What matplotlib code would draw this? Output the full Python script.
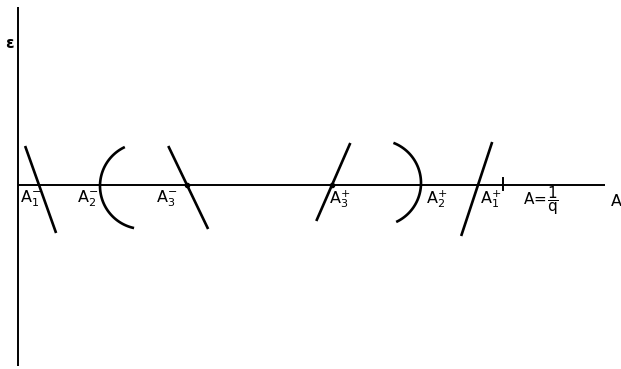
import numpy as np
import matplotlib
matplotlib.use("Agg")
import matplotlib.pyplot as plt

plt.rcParams["mathtext.fontset"] = "dejavusans"

# Straight branches: crossing point on the A axis, slope dA/dε, ε extent
line_labels = [r"$\mathrm{A}_1^{-}$", r"$\mathrm{A}_3^{-}$",
               r"$\mathrm{A}_3^{+}$", r"$\mathrm{A}_1^{+}$"]
line_cross = [21, 169, 314, 460]
line_slope = [-0.356, -0.48, 0.436, 0.33]
line_eps_top = [39, 39, 42, 43]
line_eps_bot = [-48, -44, -36, -51]

# Curved branches: vertex on the A axis, radius, angular range (degrees)
arc_labels = [r"$\mathrm{A}_2^{-}$", r"$\mathrm{A}_2^{+}$"]
arc_vertex = [82, 403]
arc_radius = [43, 43]
arc_center_eps = [-1, 2]
arc_side = [-1, 1]          # -1 opens to the right, +1 opens to the left
arc_theta = [(115, 258), (-65, 69)]

# Marked crossings and the limit A = 1/q
dot_points = [169, 314]
limit_A = 485
axis_A_end = 587
eps_top, eps_bot = 178, -181

# Label anchor points (A, ε)
label_pos = {
    r"$\mathrm{A}_1^{-}$": (2, -14),
    r"$\mathrm{A}_2^{-}$": (59, -14),
    r"$\mathrm{A}_3^{-}$": (138, -14),
    r"$\mathrm{A}_3^{+}$": (311, -14),
    r"$\mathrm{A}_2^{+}$": (408, -14),
    r"$\mathrm{A}_1^{+}$": (462, -14),
}

fig = plt.figure(figsize=(6.21, 3.69), dpi=100)
ax = fig.add_axes([0, 0, 1, 1])
ax.set_xlim(-18, 603)
ax.set_ylim(-184, 185)
ax.axis("off")

lw_axis = 1.4
lw_curve = 1.9

# Axes
ax.plot([0, 0], [eps_bot, eps_top], color="black", lw=lw_axis, solid_capstyle="butt")
ax.plot([0, axis_A_end], [0, 0], color="black", lw=lw_axis, solid_capstyle="butt")
ax.plot([limit_A, limit_A], [-5, 7], color="black", lw=lw_axis)

# Straight branches
for c, s, t, b in zip(line_cross, line_slope, line_eps_top, line_eps_bot):
    eps = np.array([b, t])
    ax.plot(c + s * eps, eps, color="black", lw=lw_curve, solid_capstyle="butt")

# Curved branches
for v, r, ce, side, (t0, t1) in zip(arc_vertex, arc_radius, arc_center_eps,
                                     arc_side, arc_theta):
    cx = v - side * r
    th = np.radians(np.linspace(t0, t1, 100))
    ax.plot(cx + r * np.cos(th), ce + r * np.sin(th), color="black",
            lw=lw_curve, solid_capstyle="butt")

ax.plot(dot_points, [0] * len(dot_points), "o", color="black", ms=3)

# Labels
for lab, (x, y) in label_pos.items():
    ax.text(x, y, lab, fontsize=11.5, ha="left", va="center")
ax.text(505, -16, r"$\mathrm{A}\!=\!\dfrac{1}{\mathrm{q}}$", fontsize=11,
        ha="left", va="center")
ax.text(593, -17, "A", fontsize=11.5, ha="left", va="center")
ax.text(-13, 141, "ε", fontsize=11, fontweight="bold", ha="left", va="center")

fig.savefig("out.png", dpi=100)
